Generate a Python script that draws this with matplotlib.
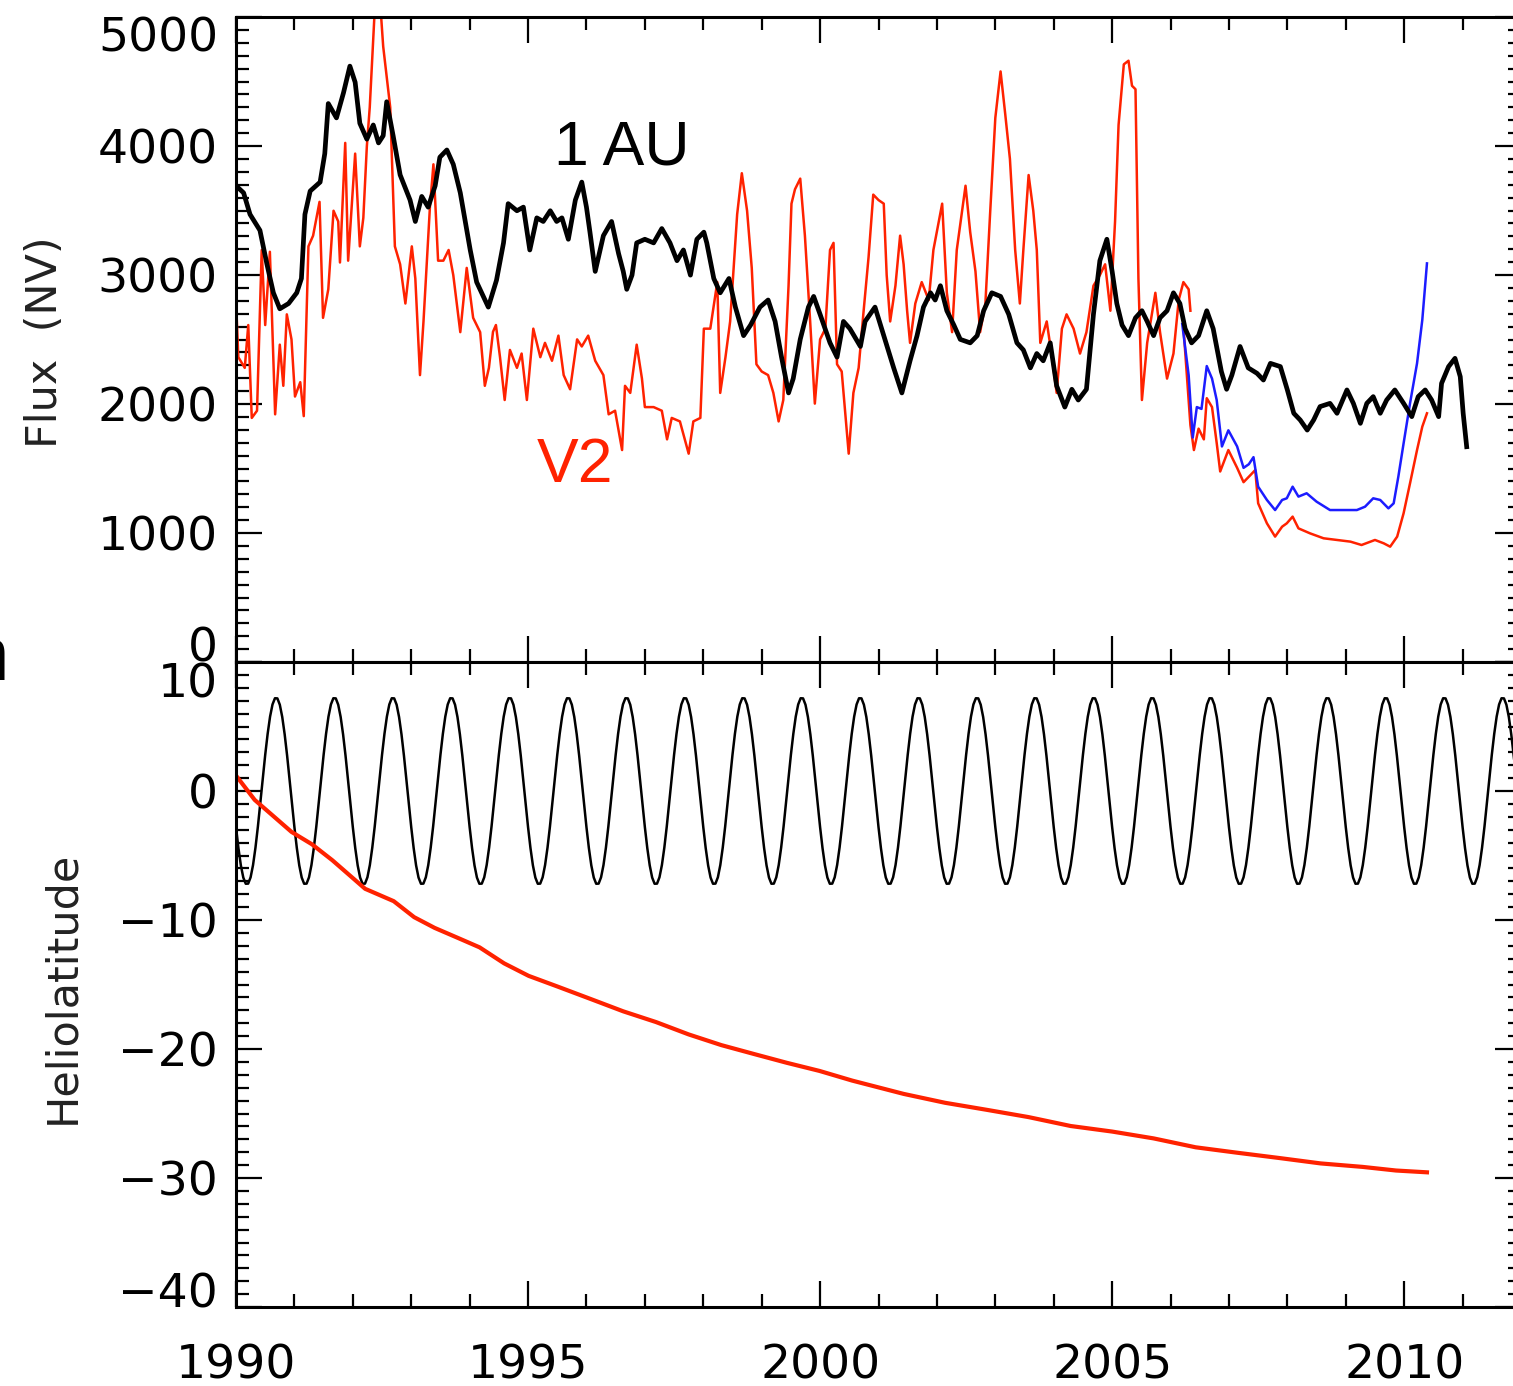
import numpy as np
import matplotlib
matplotlib.use("Agg")
import matplotlib.pyplot as plt
from matplotlib.ticker import MultipleLocator

# ===== DATA =====
# 1 AU flux (black)
au_year = [1990.00, 1990.13, 1990.24, 1990.41, 1990.53, 1990.64, 1990.75, 1990.90, 1991.04, 1991.12,
           1991.18, 1991.27, 1991.44, 1991.52, 1991.58, 1991.72, 1991.84, 1991.95, 1992.04, 1992.12,
           1992.24, 1992.35, 1992.44, 1992.52, 1992.58, 1992.69, 1992.81, 1992.98, 1993.07, 1993.18,
           1993.29, 1993.41, 1993.49, 1993.61, 1993.72, 1993.84, 1994.01, 1994.12, 1994.32, 1994.46,
           1994.58, 1994.66, 1994.81, 1994.92, 1995.03, 1995.15, 1995.26, 1995.38, 1995.49, 1995.58,
           1995.69, 1995.81, 1995.92, 1996.00, 1996.06, 1996.15, 1996.29, 1996.43, 1996.55, 1996.63,
           1996.69, 1996.78, 1996.86, 1997.00, 1997.15, 1997.29, 1997.43, 1997.55, 1997.66, 1997.78,
           1997.89, 1998.01, 1998.06, 1998.18, 1998.29, 1998.44, 1998.55, 1998.69, 1998.81, 1998.97,
           1999.11, 1999.23, 1999.34, 1999.46, 1999.54, 1999.66, 1999.80, 1999.89, 2000.00, 2000.17,
           2000.29, 2000.40, 2000.51, 2000.69, 2000.77, 2000.94, 2001.09, 2001.26, 2001.40, 2001.54,
           2001.66, 2001.77, 2001.89, 2001.97, 2002.06, 2002.17, 2002.29, 2002.40, 2002.57, 2002.69,
           2002.80, 2002.94, 2003.09, 2003.23, 2003.37, 2003.48, 2003.60, 2003.71, 2003.82, 2003.94,
           2004.05, 2004.19, 2004.31, 2004.42, 2004.56, 2004.68, 2004.79, 2004.91, 2005.00, 2005.08,
           2005.17, 2005.28, 2005.40, 2005.51, 2005.60, 2005.71, 2005.82, 2005.94, 2006.05, 2006.16,
           2006.25, 2006.36, 2006.48, 2006.62, 2006.73, 2006.87, 2006.96, 2007.05, 2007.19, 2007.33,
           2007.48, 2007.59, 2007.71, 2007.88, 2008.00, 2008.11, 2008.22, 2008.34, 2008.45, 2008.56,
           2008.73, 2008.85, 2009.02, 2009.13, 2009.25, 2009.36, 2009.47, 2009.59, 2009.70, 2009.84,
           2009.99, 2010.13, 2010.24, 2010.36, 2010.47, 2010.59, 2010.64, 2010.76, 2010.87, 2010.96,
           2011.01, 2011.07]
au_flux = [3692, 3637, 3470, 3346, 3083, 2862, 2738, 2779, 2862, 2973,
           3470, 3651, 3720, 3941, 4329, 4218, 4412, 4619, 4494, 4176,
           4053, 4163, 4024, 4080, 4343, 4080, 3776, 3581, 3415, 3609,
           3526, 3692, 3913, 3969, 3858, 3637, 3194, 2945, 2751, 2960,
           3249, 3553, 3498, 3526, 3194, 3443, 3415, 3498, 3415, 3443,
           3277, 3581, 3720, 3526, 3332, 3028, 3305, 3415, 3166, 3028,
           2889, 2999, 3249, 3277, 3249, 3360, 3249, 3111, 3194, 2999,
           3277, 3332, 3249, 2973, 2862, 2973, 2751, 2530, 2612, 2751,
           2806, 2640, 2363, 2086, 2197, 2501, 2751, 2834, 2695, 2474,
           2363, 2640, 2584, 2446, 2640, 2751, 2530, 2280, 2086, 2335,
           2530, 2751, 2862, 2806, 2917, 2723, 2612, 2501, 2474, 2530,
           2723, 2862, 2834, 2695, 2474, 2419, 2280, 2391, 2335, 2474,
           2141, 1976, 2114, 2031, 2114, 2695, 3111, 3277, 3028, 2779,
           2612, 2530, 2668, 2723, 2640, 2530, 2668, 2723, 2862, 2779,
           2584, 2474, 2530, 2723, 2584, 2252, 2114, 2224, 2446, 2280,
           2238, 2186, 2315, 2290, 2109, 1928, 1876, 1798, 1876, 1980,
           2005, 1928, 2109, 2005, 1850, 2005, 2057, 1928, 2031, 2109,
           2005, 1902, 2057, 2109, 2031, 1902, 2160, 2290, 2354, 2212,
           1928, 1669]

# V2 flux (red), up to mid 2006
v2_year = [1990.00, 1990.04, 1990.15, 1990.21, 1990.27, 1990.36, 1990.44, 1990.50, 1990.58, 1990.67,
           1990.75, 1990.81, 1990.87, 1990.95, 1991.01, 1991.10, 1991.16, 1991.24, 1991.32, 1991.43,
           1991.49, 1991.58, 1991.67, 1991.75, 1991.78, 1991.87, 1991.92, 1992.04, 1992.12, 1992.18,
           1992.24, 1992.29, 1992.38, 1992.47, 1992.52, 1992.64, 1992.72, 1992.81, 1992.90, 1993.01,
           1993.07, 1993.15, 1993.21, 1993.32, 1993.38, 1993.46, 1993.55, 1993.64, 1993.72, 1993.84,
           1993.95, 1994.06, 1994.18, 1994.26, 1994.33, 1994.40, 1994.45, 1994.52, 1994.60, 1994.69,
           1994.81, 1994.89, 1994.98, 1995.09, 1995.21, 1995.29, 1995.41, 1995.52, 1995.61, 1995.72,
           1995.84, 1995.92, 1996.03, 1996.15, 1996.29, 1996.38, 1996.49, 1996.61, 1996.66, 1996.75,
           1996.86, 1996.95, 1997.00, 1997.15, 1997.29, 1997.38, 1997.46, 1997.60, 1997.75, 1997.83,
           1997.95, 1998.01, 1998.12, 1998.24, 1998.29, 1998.38, 1998.46, 1998.58, 1998.66, 1998.75,
           1998.83, 1998.91, 1999.00, 1999.11, 1999.20, 1999.29, 1999.37, 1999.46, 1999.51, 1999.57,
           1999.66, 1999.74, 1999.83, 1999.91, 2000.00, 2000.09, 2000.17, 2000.23, 2000.29, 2000.37,
           2000.49, 2000.57, 2000.66, 2000.74, 2000.83, 2000.91, 2001.00, 2001.09, 2001.14, 2001.20,
           2001.29, 2001.37, 2001.43, 2001.49, 2001.54, 2001.63, 2001.74, 2001.86, 2001.94, 2002.09,
           2002.17, 2002.26, 2002.34, 2002.49, 2002.57, 2002.66, 2002.74, 2002.83, 2002.91, 2003.00,
           2003.09, 2003.17, 2003.25, 2003.34, 2003.42, 2003.48, 2003.57, 2003.65, 2003.71, 2003.77,
           2003.88, 2003.97, 2004.05, 2004.14, 2004.22, 2004.34, 2004.45, 2004.56, 2004.68, 2004.79,
           2004.88, 2004.97, 2005.05, 2005.11, 2005.20, 2005.28, 2005.34, 2005.40, 2005.45, 2005.51,
           2005.60, 2005.68, 2005.74, 2005.82, 2005.94, 2006.05, 2006.14, 2006.22, 2006.31, 2006.34]
v2_flux = [2806, 2363, 2280, 2612, 1892, 1948, 3194, 2612, 3180, 1920,
           2460, 2141, 2695, 2501, 2058, 2169, 1906, 3222, 3305, 3567,
           2668, 2889, 3498, 3415, 3097, 4024, 3111, 3941, 3222, 3443,
           3997, 4301, 5100, 5100, 4772, 4301, 3222, 3083, 2779, 3222,
           2973, 2224, 2640, 3526, 3858, 3111, 3111, 3194, 2999, 2557,
           3055, 2668, 2557, 2141, 2280, 2560, 2612, 2363, 2031, 2419,
           2280, 2391, 2031, 2584, 2363, 2474, 2335, 2530, 2224, 2114,
           2501, 2446, 2530, 2335, 2224, 1920, 1948, 1643, 2141, 2086,
           2460, 2197, 1976, 1976, 1948, 1726, 1892, 1865, 1615, 1865,
           1892, 2584, 2584, 2945, 2086, 2363, 2640, 3470, 3789, 3498,
           3055, 2308, 2252, 2224, 2086, 1865, 2031, 2917, 3553, 3664,
           3747, 3305, 2640, 2003, 2501, 2584, 3194, 3249, 2308, 2252,
           1615, 2086, 2280, 2695, 3139, 3623, 3581, 3553, 2999, 2640,
           2917, 3305, 3083, 2723, 2474, 2779, 2945, 2806, 3194, 3553,
           2862, 2557, 3194, 3692, 3332, 3028, 2557, 2779, 3470, 4218,
           4578, 4246, 3900, 3194, 2779, 3194, 3775, 3498, 3194, 2474,
           2640, 2363, 2086, 2584, 2695, 2584, 2391, 2557, 2917, 2999,
           3083, 2723, 3415, 4163, 4633, 4661, 4467, 4440, 2973, 2031,
           2474, 2695, 2862, 2557, 2197, 2391, 2806, 2945, 2889, 2723]

# V2 flux (red), late segment
v2b_year = [2006.22, 2006.34, 2006.40, 2006.48, 2006.57, 2006.62, 2006.71, 2006.79, 2006.85, 2006.99,
            2007.14, 2007.25, 2007.37, 2007.45, 2007.50, 2007.65, 2007.79, 2007.91, 2007.99, 2008.09,
            2008.19, 2008.39, 2008.62, 2008.85, 2009.08, 2009.27, 2009.50, 2009.65, 2009.76, 2009.88,
            2009.99, 2010.10, 2010.22, 2010.31, 2010.39]
v2b_flux = [2600, 1837, 1643, 1809, 1726, 2045, 1976, 1698, 1477, 1643,
            1505, 1394, 1450, 1488, 1230, 1075, 972, 1049, 1075, 1127,
            1036, 997, 959, 946, 933, 907, 946, 920, 894, 972,
            1153, 1385, 1643, 1824, 1928]

# blue segment
blue_year = [2006.20, 2006.31, 2006.38, 2006.45, 2006.53, 2006.62, 2006.71, 2006.79, 2006.88, 2006.99,
             2007.14, 2007.25, 2007.34, 2007.42, 2007.50, 2007.65, 2007.79, 2007.91, 2007.99, 2008.09,
             2008.19, 2008.33, 2008.50, 2008.73, 2008.96, 2009.19, 2009.33, 2009.47, 2009.59, 2009.73,
             2009.82, 2009.90, 2009.99, 2010.10, 2010.22, 2010.31, 2010.39]
blue_flux = [2620, 2224, 1740, 1976, 1962, 2294, 2197, 2031, 1671, 1796,
             1671, 1505, 1533, 1588, 1359, 1256, 1178, 1256, 1269, 1359,
             1282, 1308, 1243, 1178, 1178, 1178, 1204, 1269, 1256, 1191,
             1230, 1437, 1695, 2005, 2315, 2651, 3090]

# Earth heliolatitude, one yearly cycle (every 1/24 yr from Jan 1), repeats each year
earth_cycle = [-2.80, -4.43, -5.77, -6.71, -7.19, -7.18, -6.69, -5.74, -4.39, -2.75, -0.92, 0.97,
               2.80, 4.43, 5.77, 6.71, 7.19, 7.18, 6.69, 5.74, 4.39, 2.75, 0.92, -0.97]
earth_first_year = 1990
earth_n_years = 22

# V2 heliolatitude (red)
v2lat_year = [1990.00, 1990.32, 1990.60, 1990.95, 1991.30, 1991.65, 1992.00, 1992.21, 1992.70, 1993.05,
              1993.40, 1993.82, 1994.17, 1994.59, 1995.01, 1995.50, 1996.07, 1996.63, 1997.19, 1997.75,
              1998.31, 1998.87, 1999.43, 1999.99, 2000.55, 2001.43, 2002.14, 2002.86, 2003.57, 2004.29,
              2005.00, 2005.71, 2006.43, 2007.14, 2007.86, 2008.57, 2009.29, 2009.86, 2010.39]
v2lat = [1.2, -0.69, -1.79, -3.17, -4.13, -5.37, -6.75, -7.58, -8.54, -9.78,
         -10.61, -11.43, -12.12, -13.36, -14.33, -15.15, -16.12, -17.08, -17.91, -18.87,
         -19.70, -20.39, -21.07, -21.70, -22.45, -23.48, -24.17, -24.72, -25.28, -25.97,
         -26.40, -26.93, -27.62, -28.04, -28.45, -28.87, -29.14, -29.42, -29.56]

RED = "#ff2200"
BLUE = "#1c1cff"

# ===== FIGURE =====
fig = plt.figure(figsize=(15.13, 13.86), dpi=100)
left = 236 / 1513
width = (1521 - 236) / 1513
h = 645 / 1386
ax1 = fig.add_axes([left, 1 - 662 / 1386, width, h])
ax2 = fig.add_axes([left, 1 - 1307 / 1386, width, h], sharex=ax1)

# top panel: flux
ax1.plot(v2_year, v2_flux, color=RED, lw=1.8)
ax1.plot(v2b_year, v2b_flux, color=RED, lw=1.8)
ax1.plot(blue_year, blue_flux, color=BLUE, lw=1.8)
ax1.plot(au_year, au_flux, color="black", lw=3.4)
ax1.set_ylim(0, 5000)
ax1.set_yticks([0, 1000, 2000, 3000, 4000, 5000])
ax1.yaxis.set_minor_locator(MultipleLocator(100))
ax1.text(1996.61, 3984, "1 AU", color="black", fontsize=45, family="Liberation Sans",
         ha="center", va="center")
ax1.text(1995.80, 1527, "V2", color=RED, fontsize=45, family="Liberation Sans",
         ha="center", va="center")

# bottom panel: heliolatitude
earth_lat = np.tile(earth_cycle, earth_n_years)
earth_t = earth_first_year + np.arange(len(earth_lat)) / len(earth_cycle)
ax2.plot(earth_t, earth_lat, color="black", lw=1.8)
ax2.plot(v2lat_year, v2lat, color=RED, lw=3.0)
ax2.set_ylim(-40, 10)
ax2.set_yticks([-40, -30, -20, -10, 0, 10])
ax2.yaxis.set_minor_locator(MultipleLocator(1))

ax2.set_xlim(1990, 2012)
ax2.set_xticks([1990, 1995, 2000, 2005, 2010])
ax2.xaxis.set_minor_locator(MultipleLocator(1))

for ax in (ax1, ax2):
    ax.tick_params(which="both", direction="in", top=True, right=True, width=1.6,
                   labelsize=34, pad=13)
    ax.tick_params(which="major", length=19)
    ax.tick_params(which="minor", length=9.5)
    ax.tick_params(axis="x", pad=26)
    for s in ax.spines.values():
        s.set_linewidth(2.2)
ax1.tick_params(labelbottom=False)

# edge labels sit inside the panel like the original
fig.canvas.draw()
lab1 = ax1.get_yticklabels()
lab1[0].set_va("baseline")
lab1[-1].set_va("top")
lab2 = ax2.get_yticklabels()
lab2[0].set_va("baseline")
lab2[-1].set_va("top")

fig.text(45 / 1513, 1 - 342 / 1386, "Flux  (NV)", rotation=90, ha="center", va="center",
         fontsize=31, color="#222222")
fig.text(62 / 1513, 1 - 987 / 1386, "Heliolatitude", rotation=90, ha="center", va="center",
         fontsize=31, color="#222222")
fig.text(9 / 1513, 1 - 680 / 1386, "n", ha="right", va="baseline", fontsize=55,
         family="Liberation Sans")

fig.savefig("out.png", dpi=100)
